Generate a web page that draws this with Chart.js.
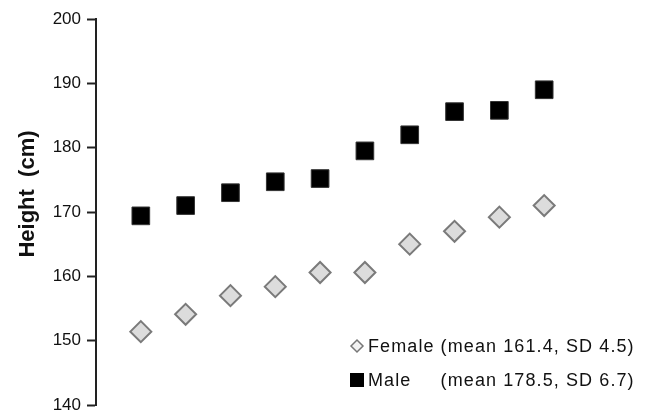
<!DOCTYPE html>
<html>
<head>
<meta charset="utf-8">
<script src="https://cdn.jsdelivr.net/npm/chart.js@4/dist/chart.umd.min.js"></script>
<style>
  html, body { margin: 0; padding: 0; background: #fff; }
  #wrap { width: 648px; height: 414px; position: relative; }
</style>
</head>
<body>
<div id="wrap"><canvas id="c" width="648" height="414"></canvas></div>
<script>
// Rank position of each group along the (unlabelled) horizontal axis
const ranks = [1, 2, 3, 4, 5, 6, 7, 8, 9, 10];

// Heights in cm
const femaleHeights = [151.4, 154.1, 157.0, 158.4, 160.6, 160.6, 165.0, 167.0, 169.2, 171.0];
const maleHeights   = [169.4, 171.0, 173.0, 174.7, 175.2, 179.5, 182.0, 185.6, 185.8, 189.0];

// Legend text
const seriesNames = ['Female', 'Male'];
const seriesStats = ['(mean 161.4, SD 4.5)', '(mean 178.5, SD 6.7)'];

// Vertical axis
const yMin = 140, yMax = 200, yStep = 10;
const yTitle = 'Height  (cm)';

const FONT = '"Liberation Sans", Arial, sans-serif';

const toPoints = (vals) => vals.map((v, i) => ({ x: ranks[i], y: v }));

// Rotated axis title, placed a little above the middle of the axis
const axisTitlePlugin = {
  id: 'axisTitle',
  afterDraw(chart) {
    const ctx = chart.ctx;
    ctx.save();
    ctx.translate(34, 194);
    ctx.rotate(-Math.PI / 2);
    ctx.font = 'bold 22px ' + FONT;
    ctx.fillStyle = '#111';
    ctx.textAlign = 'center';
    ctx.textBaseline = 'alphabetic';
    ctx.fillText(yTitle, 0, 0);
    ctx.restore();
  }
};

// Two-row legend in the lower right, stats columns aligned
const legendPlugin = {
  id: 'statsLegend',
  afterDraw(chart) {
    const ctx = chart.ctx;
    const x0 = 357, textX = 368, rowY = [346, 380], rowGap = 6;
    ctx.save();
    ctx.font = '18px ' + FONT;
    ctx.letterSpacing = '1.1px';
    let nameW = 0;
    seriesNames.forEach(n => { nameW = Math.max(nameW, ctx.measureText(n).width); });
    chart.data.datasets.forEach((ds, i) => {
      const y = rowY[i];
      ctx.beginPath();
      if (ds.pointStyle === 'rectRot') {
        const r = 6;
        ctx.moveTo(x0 - r, y); ctx.lineTo(x0, y - r);
        ctx.lineTo(x0 + r, y); ctx.lineTo(x0, y + r);
        ctx.closePath();
        ctx.fillStyle = '#f2f2f2';
        ctx.fill();
        ctx.lineWidth = 1.5;
        ctx.strokeStyle = '#777';
        ctx.stroke();
      } else {
        const h = 7;
        ctx.rect(x0 - h, y - h, 2 * h, 2 * h);
        ctx.fillStyle = '#000';
        ctx.fill();
      }
      ctx.fillStyle = '#111';
      ctx.textBaseline = 'alphabetic';
      ctx.textAlign = 'left';
      ctx.fillText(seriesNames[i], textX, y + 6);
      ctx.fillText(seriesStats[i], textX + nameW + rowGap, y + 6);
    });
    ctx.restore();
  }
};

new Chart(document.getElementById('c'), {
  type: 'scatter',
  data: {
    datasets: [
      {
        label: seriesNames[0],
        data: toPoints(femaleHeights),
        pointStyle: 'rectRot',
        pointRadius: 10.5,
        backgroundColor: '#dcdcdc',
        borderColor: '#7a7a7a',
        borderWidth: 2
      },
      {
        label: seriesNames[1],
        data: toPoints(maleHeights),
        pointStyle: 'rect',
        pointRadius: 12.5,
        backgroundColor: '#000',
        borderColor: '#333',
        borderWidth: 1
      }
    ]
  },
  options: {
    responsive: false,
    animation: false,
    layout: { autoPadding: false, padding: { left: 0, top: 19, right: 59, bottom: 9 } },
    plugins: {
      legend: { display: false },
      tooltip: { enabled: false }
    },
    scales: {
      x: {
        type: 'linear',
        display: false,
        min: 0,
        max: 11
      },
      y: {
        type: 'linear',
        min: yMin,
        max: yMax,
        afterFit(scale) {
          scale.width = 96;
          scale.paddingTop = 0;
          scale.paddingBottom = 0;
        },
        ticks: {
          stepSize: yStep,
          padding: 6,
          color: '#111',
          font: { family: FONT, size: 17 }
        },
        grid: {
          drawOnChartArea: false,
          drawTicks: true,
          tickLength: 9,
          tickWidth: 2,
          tickColor: '#222'
        },
        border: { display: true, color: '#222', width: 2 }
      }
    }
  },
  plugins: [axisTitlePlugin, legendPlugin]
});
</script>
</body>
</html>
